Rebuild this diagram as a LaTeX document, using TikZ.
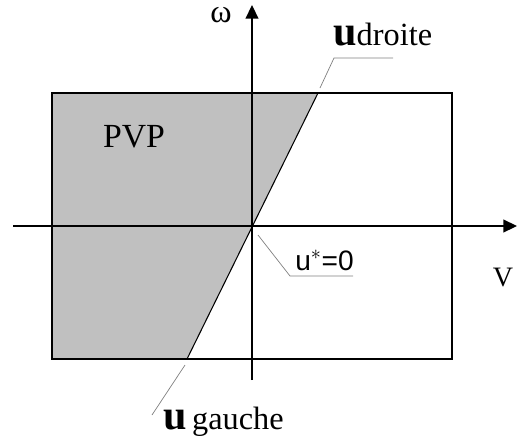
\documentclass[tikz,border=0pt]{standalone}
\usepackage{fontspec}
\setmainfont{Liberation Serif}
\newfontfamily\labsans{Liberation Sans}
\usetikzlibrary{arrows.meta}
\definecolor{zone}{HTML}{C0C0C0}
\definecolor{lead}{HTML}{808080}
\tikzset{
  axe/.style={line width=1pt,-{Triangle[length=3.4mm,width=3.2mm]}},
  cadre/.style={line width=1pt},
  droite/.style={line width=0.75pt},
  renvoi/.style={draw=lead,line width=0.5pt},
  lbl/.style={inner sep=0pt,anchor=base west}}
\newcommand{\grandu}{{\fontsize{30}{30}\selectfont\bfseries u}}

\begin{document}
\begin{tikzpicture}[x=0.25mm,y=-0.25mm]
\useasboundingbox (0,0) rectangle (520,439);
% points
\coordinate (O) at (252,226);
\coordinate (hg) at (52,93);
\coordinate (bd) at (452,359);
\coordinate (lh) at (318,93);
\coordinate (lb) at (187,359);
% zone PVP
\fill[zone] (hg) -- (lh) -- (lb) -- (52,359) -- cycle;
\draw[cadre] (hg) rectangle (bd);
% axes
\coordinate (xg) at (13,226);
\coordinate (xd) at (517,226);
\coordinate (yb) at (252,380);
\coordinate (yh) at (252,5);
\draw[axe] (xg) -- (xd);
\draw[axe] (yb) -- (yh);
\draw[droite] (lb) -- (lh);
% textes
\node[lbl] (w) at (210,22) {\fontsize{23}{23}\selectfont ω};
\node (v) at (503,278) {\fontsize{20}{20}\selectfont V};
\node (pvp) at (134,137) {\fontsize{24}{24}\selectfont PVP};
\node[lbl] (ud) at (333,45) {\grandu\fontsize{23}{23}\selectfont droite};
\node[lbl] (ug) at (163,429) {\grandu\fontsize{23}{23}\selectfont\,gauche};
\node[lbl] (uz) at (295,270) {\labsans\fontsize{20}{20}\selectfont u$^{*}$=0};
% renvois
\coordinate (rd) at (320,88);
\coordinate (rg) at (185,365);
\coordinate (rz) at (258,235);
\draw[renvoi] (rd) -- (334,58) -- (393,58);
\draw[renvoi] (rg) -- (152,415);
\draw[renvoi] (rz) -- (290,276) -- (353,276);
\end{tikzpicture}
\end{document}
